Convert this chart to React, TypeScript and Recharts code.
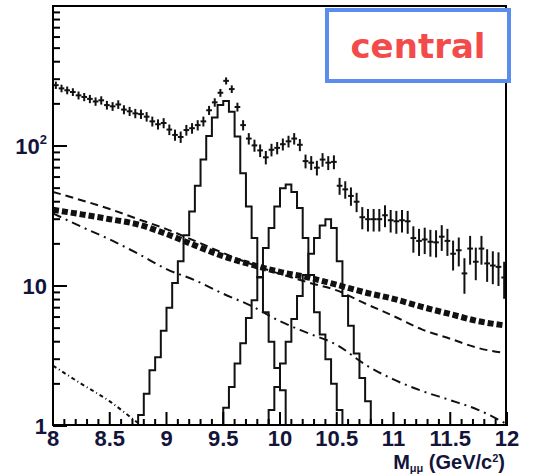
import React from 'react';
import { ComposedChart, Line, Scatter, ErrorBar, XAxis, YAxis } from 'recharts';

const BIN_WIDTH = 0.05;
const HALF_BIN = 0.025;
const FLOOR = 0.1; // below the log axis, gets clipped

// measured spectrum, bin centres start at 8.025 GeV
const dataStart = 8.025;
const dataCounts = [
  272, 258, 250, 243, 230, 224, 217, 208, 212, 196,
  192, 198, 182, 177, 171, 169, 162, 150, 143, 146,
  131, 120, 116, 130, 134, 141, 150, 180, 205, 240,
  292, 255, 190, 141, 113, 101, 93, 83, 94, 97,
  103, 108, 113, 102, 78, 76, 70, 80, 76, 77,
  52, 49, 44, 40, 31, 30, 30, 30, 32, 29.5,
  29, 29.5, 29, 22, 21, 21.5, 20.7, 20.5, 22.5, 21,
  17, 18, 12.3, 18.5, 14.9, 18.5, 14.5, 14, 13.7, 11.5,
];
const dataErrors = [
  16.5, 16, 16, 15.5, 15, 15, 14.7, 14.4, 14.5, 14,
  13.9, 14, 13.5, 13.3, 13.1, 13, 12.7, 12.2, 12, 12.1,
  11.4, 11, 10.8, 11.4, 11.6, 11.9, 12.2, 13.4, 14.3, 15.5,
  17, 16, 13.8, 11.9, 10.6, 10, 9.6, 9.1, 9.7, 9.8,
  10.1, 10.4, 10.6, 10.1, 8.8, 8.7, 8.4, 8.9, 8.7, 8.8,
  7.2, 7, 6.6, 6.3, 5.6, 5.5, 5.5, 5.5, 5.7, 5.4,
  5.4, 5.4, 5.4, 4.7, 4.6, 4.6, 4.5, 4.5, 4.7, 4.6,
  4.1, 4.2, 3.5, 4.3, 3.9, 4.3, 3.8, 3.7, 3.7, 3.4,
];

// upsilon line shapes, lower edge of first filled bin
const ups1SStart = 8.75;
const ups1SCounts = [1.2, 1.7, 2.5, 3.1, 4.8, 7.0, 10.5, 15, 23, 34, 52, 80, 118, 160, 196, 210, 176, 117, 64, 37, 22, 11.5, 6.5, 4.0, 2.6, 1.8];
const ups2SStart = 9.5;
const ups2SCounts = [1.35, 1.9, 2.8, 3.9, 5.9, 7.9, 11.6, 18.7, 26, 37, 50, 53, 47, 36, 22, 12, 6.5, 4.5, 3.0, 2.0, 1.3];
const ups3SStart = 9.9;
const ups3SCounts = [1.3, 1.9, 2.8, 4.0, 5.8, 8.5, 12, 17, 22, 27, 30, 26, 15, 8.5, 5.2, 3.3, 2.2, 1.5];

// smooth background components
const curveMass = [8, 8.25, 8.5, 8.75, 9, 9.25, 9.5, 9.75, 10, 10.25, 10.5, 10.75, 11, 11.25, 11.5, 11.75, 12];
const combBg = [35, 32.5, 30, 27.5, 23.5, 19.5, 16.3, 14.2, 12.6, 11.5, 10.2, 9.0, 8.1, 7.1, 6.3, 5.6, 5.2];
const dashedBg = [47, 41, 35.5, 30, 25.5, 21, 17.2, 14.3, 12.2, 10.6, 9.3, 7.5, 6.1, 4.9, 4.2, 3.6, 3.3];
const dashDotBg = [33, 26.5, 21.5, 17, 13.2, 11, 8.8, 7.2, 5.6, 4.6, 3.8, 2.75, 2.15, 1.78, 1.53, 1.3, 1.03];
const lowMass = [8, 8.25, 8.5, 8.75, 9];
const lowBg = [2.7, 2.0, 1.5, 1.05, 0.75];

const xMajor = [8, 8.5, 9, 9.5, 10, 10.5, 11, 11.5, 12];
const xTicks = Array.from({ length: 41 }, (_, i) => Math.round((8 + i * 0.1) * 10) / 10);
const yTicks = [1, 2, 3, 4, 5, 6, 7, 8, 9, 10, 20, 30, 40, 50, 60, 70, 80, 90, 100, 200, 300, 400, 500, 600, 700, 800, 900];
const yMajor = [1, 10, 100];

const dataPoints = dataCounts.map((y, i) => ({
  x: dataStart + i * BIN_WIDTH,
  y,
  ex: HALF_BIN,
  ey: dataErrors[i],
}));

function histo(start: number, counts: number[]) {
  const pts = [{ x: start - BIN_WIDTH, y: FLOOR }];
  counts.forEach((c, i) => pts.push({ x: start + i * BIN_WIDTH, y: c }));
  pts.push({ x: start + counts.length * BIN_WIDTH, y: FLOOR });
  return pts;
}

const curve = (xs: number[], ys: number[]) => xs.map((x, i) => ({ x, y: ys[i] }));

const FONT = '"Liberation Sans", Arial, sans-serif';
const LABEL_COLOR = '#14143a';

const XTick = (props: any) => {
  const { x, y, payload } = props;
  const v = payload.value;
  const major = xMajor.includes(v);
  return (
    <g>
      <line x1={x} x2={x} y1={y} y2={y - (major ? 14 : 7)} stroke="#000" strokeWidth={2} />
      {major && (
        <text x={x} y={y + 20} textAnchor="middle" fontFamily={FONT} fontWeight="bold" fontSize={22} fill={LABEL_COLOR}>
          {String(v)}
        </text>
      )}
    </g>
  );
};

const YTick = (props: any) => {
  const { x, y, payload } = props;
  const v = payload.value;
  const major = yMajor.includes(v);
  return (
    <g>
      <line x1={x} x2={x + (major ? 14 : 7)} y1={y} y2={y} stroke="#000" strokeWidth={2} />
      {major && (
        <text x={x - 6} y={y + 8} textAnchor="end" fontFamily={FONT} fontWeight="bold" fontSize={22} fill={LABEL_COLOR}>
          {v === 100 ? (
            <>
              10
              <tspan dy={-10} fontSize={13}>2</tspan>
            </>
          ) : (
            String(v)
          )}
        </text>
      )}
    </g>
  );
};

const lineProps = {
  dataKey: 'y',
  dot: false,
  activeDot: false,
  isAnimationActive: false,
  stroke: '#111',
};

export default function App() {
  return (
    <div style={{ position: 'absolute', left: 0, top: 0, width: 549, height: 476, background: '#fff' }}>
      <ComposedChart width={549} height={476} margin={{ top: 6, right: 42, bottom: 0, left: 0 }}>
        <XAxis
          dataKey="x"
          type="number"
          domain={[8, 12]}
          allowDataOverflow
          ticks={xTicks}
          interval={0}
          height={50}
          axisLine={false}
          tickLine={false}
          tickSize={0}
          tickMargin={0}
          tick={(p: any) => <XTick {...p} />}
        />
        <YAxis
          dataKey="y"
          type="number"
          scale="log"
          domain={[1, 1000]}
          allowDataOverflow
          ticks={yTicks}
          interval={0}
          width={53}
          axisLine={false}
          tickLine={false}
          tickSize={0}
          tickMargin={0}
          tick={(p: any) => <YTick {...p} />}
        />
        <Line {...lineProps} data={curve(lowMass, lowBg)} type="monotone" strokeWidth={2} strokeDasharray="4 3 1 3" />
        <Line {...lineProps} data={curve(curveMass, dashDotBg)} type="monotone" strokeWidth={2} strokeDasharray="9 5 2 5" />
        <Line {...lineProps} data={curve(curveMass, dashedBg)} type="monotone" strokeWidth={2} strokeDasharray="8 5" />
        <Line {...lineProps} data={histo(ups1SStart, ups1SCounts)} type="stepAfter" strokeWidth={2} />
        <Line {...lineProps} data={histo(ups2SStart, ups2SCounts)} type="stepAfter" strokeWidth={2} />
        <Line {...lineProps} data={histo(ups3SStart, ups3SCounts)} type="stepAfter" strokeWidth={2} />
        <Line {...lineProps} data={curve(curveMass, combBg)} type="monotone" strokeWidth={6} strokeDasharray="6 3" />
        <Scatter data={dataPoints} isAnimationActive={false} shape={() => <g />}>
          <ErrorBar dataKey="ey" direction="y" width={0} stroke="#111" strokeWidth={2} />
          <ErrorBar dataKey="ex" direction="x" width={0} stroke="#111" strokeWidth={2} />
        </Scatter>
      </ComposedChart>

      {/* frame */}
      <div
        style={{
          position: 'absolute',
          left: 52,
          top: 5,
          width: 455,
          height: 421,
          border: '2px solid #000',
          boxSizing: 'border-box',
          pointerEvents: 'none',
        }}
      />

      <svg width={549} height={476} style={{ position: 'absolute', left: 0, top: 0, pointerEvents: 'none' }}>
        <text x={505} y={469} textAnchor="end" fontFamily={FONT} fontWeight="bold" fontSize={20} fill={LABEL_COLOR}>
          M
          <tspan dy={3} fontSize={11}>μμ</tspan>
          <tspan dy={-3}> (GeV/c</tspan>
          <tspan dy={-7} fontSize={11}>2</tspan>
          <tspan dy={7}>)</tspan>
        </text>
      </svg>

      <div
        style={{
          position: 'absolute',
          left: 325,
          top: 8,
          width: 186,
          height: 75,
          boxSizing: 'border-box',
          border: '4px solid #5b8def',
          background: '#fff',
          display: 'flex',
          alignItems: 'center',
          justifyContent: 'center',
          fontFamily: '"DejaVu Sans", Verdana, sans-serif',
          fontWeight: 'bold',
          fontSize: 34,
          color: '#f34b4b',
        }}
      >
        central
      </div>
    </div>
  );
}
